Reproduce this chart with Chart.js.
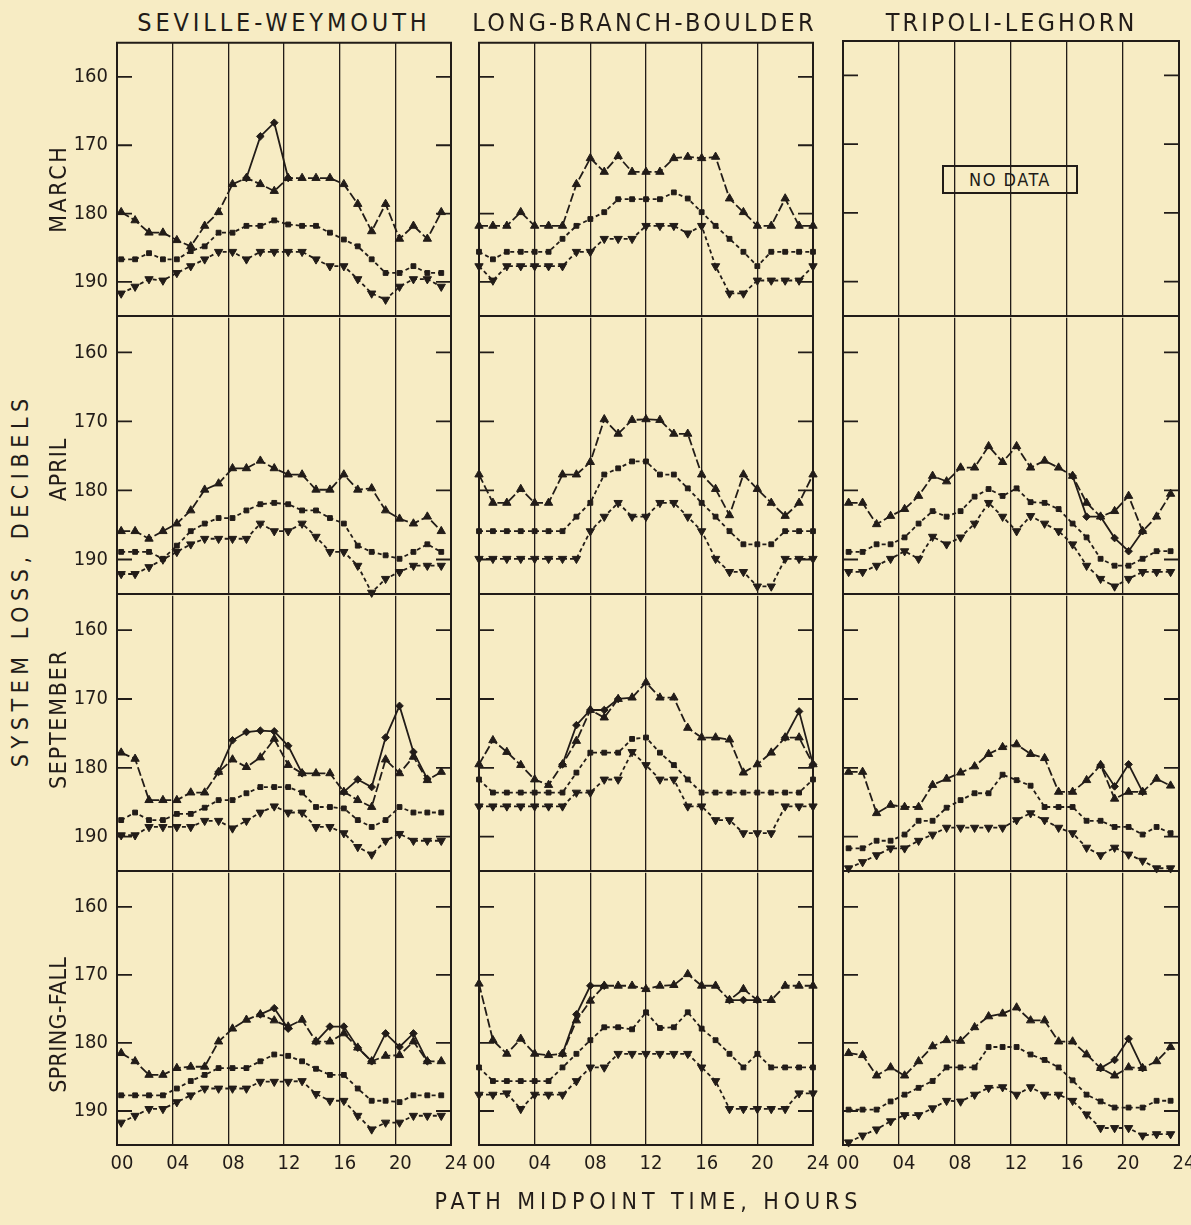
<!DOCTYPE html>
<html>
<head>
<meta charset="utf-8">
<script src="https://cdn.jsdelivr.net/npm/chart.js@4.4.1/dist/chart.umd.min.js"></script>
<style>
  html, body { margin: 0; background: #f7ecc4; }
  #page { position: relative; width: 1191px; height: 1225px; overflow: hidden; color: #221c18;
          font-family: "DejaVu Sans Condensed", "DejaVu Sans", sans-serif; }
  #page canvas { position: absolute; }
  .lbl { position: absolute; white-space: nowrap; line-height: 1; }
  #nodata { position: absolute; left: 942px; top: 165px; width: 132px; height: 25px; border: 2px solid #221c18;
            font-size: 18px; line-height: 25px; text-align: center; letter-spacing: 1.5px; }
</style>
</head>
<body>
<div id="page"><div id="nodata">NO DATA</div></div>
<script>
// ---- data ---------------------------------------------------------------
const paths  = ["SEVILLE-WEYMOUTH", "LONG-BRANCH-BOULDER", "TRIPOLI-LEGHORN"];
const months = ["MARCH", "APRIL", "SEPTEMBER", "SPRING-FALL"];
const yTicks = [160, 170, 180, 190];
const xTicks = [0, 4, 8, 12, 16, 20, 24];

// path midpoint hours of the plotted points (each path is shifted a little)
const hoursSW = [0.3, 1.3, 2.3, 3.3, 4.3, 5.3, 6.3, 7.3, 8.3, 9.3, 10.3, 11.3, 12.3, 13.3, 14.3, 15.3, 16.3, 17.3, 18.3, 19.3, 20.3, 21.3, 22.3, 23.3];
const hoursLB = [0, 1, 2, 3, 4, 5, 6, 7, 8, 9, 10, 11, 12, 13, 14, 15, 16, 17, 18, 19, 20, 21, 22, 23, 24];
const hoursTL = [0.4, 1.4, 2.4, 3.4, 4.4, 5.4, 6.4, 7.4, 8.4, 9.4, 10.4, 11.4, 12.4, 13.4, 14.4, 15.4, 16.4, 17.4, 18.4, 19.4, 20.4, 21.4, 22.4, 23.4];

// Seville - Weymouth
const swMarHigh = [179.8, 181.0, 182.8, 182.8, 183.9, 184.8, 181.8, 179.8, 175.7, 174.8, 175.7, 176.7, 174.8, 174.8, 174.8, 174.8, 175.7, 178.6, 182.6, 178.6, 183.7, 181.8, 183.7, 179.8];
const swMarMid  = [186.7, 186.7, 185.8, 186.7, 186.7, 185.5, 184.8, 182.8, 182.8, 181.8, 181.8, 181.0, 181.6, 181.8, 181.8, 182.8, 183.8, 184.8, 186.7, 188.7, 188.7, 187.7, 188.7, 188.7];
const swMarLow  = [191.7, 190.7, 189.6, 189.8, 188.7, 187.7, 186.7, 185.6, 185.6, 186.7, 185.6, 185.6, 185.6, 185.6, 186.7, 187.7, 187.7, 189.6, 191.7, 192.6, 190.7, 189.6, 189.6, 190.7];
const swMarAlt  = [null, null, null, null, null, null, null, null, null, 174.8, 168.7, 166.7, 174.8, null, null, null, null, null, null, null, null, null, null, null];

const swAprHigh = [185.9, 185.9, 187.0, 185.9, 184.8, 182.9, 179.9, 179.0, 176.8, 176.8, 175.7, 176.8, 177.7, 177.7, 179.9, 179.9, 177.7, 179.9, 179.7, 182.9, 184.1, 184.8, 183.8, 185.9];
const swAprMid  = [188.9, 188.9, 188.9, 189.9, 188.0, 185.9, 184.8, 184.0, 184.0, 182.9, 182.0, 181.8, 182.0, 182.9, 182.9, 184.0, 184.8, 188.0, 188.9, 189.4, 189.9, 188.9, 187.8, 188.9];
const swAprLow  = [192.1, 192.1, 191.1, 190.0, 188.9, 187.8, 187.0, 187.0, 187.0, 187.0, 184.8, 185.9, 185.9, 184.8, 186.7, 188.9, 188.9, 190.9, 194.8, 192.8, 191.8, 190.9, 190.9, 190.9];

const swSepHigh = [177.8, 178.7, 184.7, 184.7, 184.7, 183.6, 183.6, 180.6, 178.8, 179.9, 178.5, 175.8, 179.6, 180.8, 180.8, 180.8, 183.5, 184.7, 185.7, 178.8, 180.8, 178.4, 181.8, 180.6];
const swSepMid  = [187.6, 186.5, 187.6, 187.6, 186.7, 186.7, 185.8, 184.7, 184.7, 183.7, 182.8, 182.8, 182.8, 183.6, 185.7, 185.7, 185.9, 187.6, 188.6, 187.6, 185.7, 186.5, 186.5, 186.5];
const swSepLow  = [189.8, 189.8, 188.6, 188.6, 188.6, 188.6, 187.7, 187.7, 188.8, 187.7, 186.5, 185.6, 186.5, 186.5, 188.6, 188.6, 189.5, 191.5, 192.6, 190.6, 189.6, 190.6, 190.6, 190.6];
const swSepAlt  = [null, null, null, null, null, null, null, 180.6, 176.0, 174.8, 174.6, 174.7, 176.8, 180.8, null, null, 183.5, 181.7, 182.8, 175.6, 171.0, 177.7, 181.6, null];

const swSfHigh  = [181.5, 182.7, 184.7, 184.7, 183.7, 183.5, 183.5, 179.8, 177.9, 176.6, 175.8, 176.7, 177.6, 176.6, 179.8, 179.8, 178.6, 180.7, 182.7, 181.9, 181.8, 179.8, 182.7, 182.7];
const swSfMid   = [187.7, 187.7, 187.7, 187.7, 186.7, 185.6, 184.7, 183.7, 183.7, 183.7, 182.7, 181.7, 181.9, 182.7, 183.8, 184.7, 184.7, 186.7, 188.5, 188.5, 188.7, 187.7, 187.7, 187.7];
const swSfLow   = [191.7, 190.7, 189.7, 189.7, 188.7, 187.7, 186.7, 186.7, 186.7, 186.7, 185.7, 185.7, 185.7, 185.6, 187.5, 188.5, 188.5, 190.7, 192.7, 191.7, 191.7, 190.7, 190.7, 190.7];
const swSfAlt   = [null, null, null, null, null, null, null, null, null, null, 175.8, 174.9, 177.9, null, 179.8, 177.6, 177.6, 180.7, 182.7, 178.6, 180.6, 178.6, 182.7, null];

// Long Branch - Boulder
const lbMarHigh = [181.8, 181.8, 181.8, 179.8, 181.8, 181.8, 181.8, 175.7, 171.9, 173.9, 171.6, 173.9, 173.9, 173.9, 171.9, 171.7, 171.9, 171.7, 177.8, 179.8, 181.8, 181.8, 177.8, 181.8, 181.8];
const lbMarMid  = [185.6, 186.7, 185.6, 185.6, 185.6, 185.6, 183.7, 181.8, 180.8, 179.8, 177.9, 177.9, 177.9, 177.9, 176.9, 177.8, 179.8, 181.8, 183.7, 185.6, 187.7, 185.6, 185.6, 185.6, 185.6];
const lbMarLow  = [187.7, 189.8, 187.7, 187.7, 187.7, 187.7, 187.7, 185.6, 185.6, 183.7, 183.7, 183.7, 181.8, 181.8, 181.8, 182.9, 181.8, 187.7, 191.7, 191.7, 189.8, 189.8, 189.8, 189.8, 187.7];

const lbAprHigh = [177.7, 181.8, 181.8, 179.8, 181.8, 181.8, 177.7, 177.7, 175.9, 169.7, 171.8, 169.8, 169.7, 169.8, 171.8, 171.8, 177.7, 179.8, 183.6, 177.7, 179.8, 181.8, 183.7, 181.8, 177.7];
const lbAprMid  = [185.9, 185.9, 185.9, 185.9, 185.9, 185.9, 185.9, 183.8, 181.8, 177.7, 176.8, 175.8, 175.8, 177.7, 177.7, 179.7, 181.8, 183.8, 185.9, 187.8, 187.8, 187.8, 185.9, 185.9, 185.9];
const lbAprLow  = [189.9, 189.9, 189.9, 189.9, 189.9, 189.9, 189.9, 189.9, 185.9, 183.8, 181.8, 183.8, 183.8, 181.8, 181.8, 183.8, 185.9, 189.9, 191.8, 191.8, 193.9, 193.9, 189.9, 189.9, 189.9];

const lbSepHigh = [179.5, 176.0, 177.7, 179.6, 181.7, 182.5, 179.5, 176.1, 171.6, 172.7, 170.0, 169.8, 167.6, 169.8, 169.8, 174.2, 175.6, 175.6, 175.9, 180.7, 179.5, 177.8, 175.6, 175.6, 179.5];
const lbSepMid  = [181.7, 183.6, 183.6, 183.6, 183.6, 183.6, 183.6, 180.7, 177.8, 177.8, 177.8, 175.8, 175.6, 177.8, 179.6, 181.7, 183.6, 183.6, 183.6, 183.6, 183.6, 183.6, 183.6, 183.6, 181.7];
const lbSepLow  = [185.6, 185.6, 185.6, 185.6, 185.6, 185.6, 185.6, 183.6, 183.6, 181.7, 181.7, 177.7, 179.6, 181.7, 181.7, 185.6, 185.6, 187.6, 187.6, 189.5, 189.5, 189.5, 185.6, 185.6, 185.6];
const lbSepAlt  = [null, null, null, null, null, null, 179.5, 173.8, 171.6, 171.6, 170.0, null, null, null, null, null, null, null, null, null, null, null, 175.6, 171.8, 179.5];

const lbSfHigh  = [171.3, 179.6, 181.6, 179.4, 181.6, 181.8, 181.6, 176.7, 173.8, 171.6, 171.6, 171.6, 172.1, 171.6, 171.5, 169.9, 171.6, 171.6, 173.7, 172.1, 173.7, 173.7, 171.6, 171.6, 171.6];
const lbSfMid   = [183.6, 185.6, 185.6, 185.6, 185.6, 185.6, 183.6, 181.6, 179.6, 177.7, 177.7, 178.0, 175.5, 177.8, 177.7, 175.5, 177.9, 179.6, 181.6, 183.6, 181.6, 183.6, 183.6, 183.6, 183.6];
const lbSfLow   = [187.6, 187.6, 187.4, 189.7, 187.6, 187.6, 187.6, 185.6, 183.6, 183.6, 181.6, 181.6, 181.6, 181.6, 181.6, 181.6, 183.6, 185.6, 189.7, 189.7, 189.7, 189.7, 189.7, 187.4, 187.4];
const lbSfAlt   = [null, null, null, null, null, null, 181.6, 175.8, 171.6, 171.6, null, null, null, null, null, null, null, null, 173.7, 173.7, 173.7, null, null, null, null];

// Tripoli - Leghorn (no March data)
const tlAprHigh = [181.8, 181.8, 184.9, 183.7, 182.7, 180.8, 177.9, 178.7, 176.7, 176.7, 173.6, 175.9, 173.6, 176.7, 175.7, 176.7, 177.9, 181.8, 183.8, 183.0, 180.8, 185.9, 183.8, 180.5];
const tlAprMid  = [188.9, 188.9, 187.8, 187.8, 186.8, 184.8, 183.0, 183.8, 183.0, 180.9, 179.8, 180.8, 179.7, 181.7, 181.8, 182.7, 184.8, 186.8, 189.9, 190.9, 190.9, 189.9, 188.8, 188.8];
const tlAprLow  = [191.8, 191.8, 190.9, 189.9, 188.8, 189.9, 186.7, 187.8, 186.8, 184.8, 181.8, 183.8, 185.9, 183.7, 184.8, 185.9, 187.8, 190.9, 192.8, 193.9, 192.8, 191.8, 191.8, 191.8];
const tlAprAlt  = [null, null, null, null, null, null, null, null, null, null, null, null, null, null, null, null, 177.9, 183.8, 183.8, 186.9, 188.8, 185.9, null, null];

const tlSepHigh = [180.6, 180.6, 186.6, 185.4, 185.7, 185.7, 182.5, 181.6, 180.7, 179.8, 178.0, 177.0, 176.6, 178.0, 178.6, 183.5, 183.5, 181.8, 179.6, 184.5, 183.5, 183.5, 181.6, 182.6];
const tlSepMid  = [191.7, 191.7, 190.6, 190.6, 189.7, 187.7, 187.7, 185.8, 184.7, 183.7, 183.7, 181.0, 181.8, 182.6, 185.7, 185.7, 185.7, 187.7, 187.7, 188.6, 188.6, 189.7, 188.6, 189.5];
const tlSepLow  = [194.6, 193.7, 192.7, 191.7, 191.7, 190.6, 189.7, 188.7, 188.7, 188.7, 188.7, 188.7, 187.6, 186.6, 187.6, 188.7, 189.5, 191.6, 192.7, 191.6, 192.6, 193.5, 194.6, 194.6];
const tlSepAlt  = [null, null, null, null, null, null, null, null, null, null, null, null, null, null, null, null, null, null, 179.6, 182.7, 179.5, 183.5, null, null];

const tlSfHigh  = [181.5, 181.8, 184.8, 183.6, 184.8, 182.7, 180.5, 179.6, 179.7, 177.7, 176.1, 175.7, 174.8, 176.7, 176.7, 179.8, 179.8, 181.7, 183.7, 184.8, 183.6, 183.7, 182.7, 180.6];
const tlSfMid   = [189.8, 189.8, 189.8, 188.6, 187.6, 186.6, 185.6, 183.6, 183.6, 183.6, 180.6, 180.6, 180.6, 181.7, 182.5, 183.6, 185.5, 187.6, 188.6, 189.5, 189.5, 189.5, 188.5, 188.5];
const tlSfLow   = [194.6, 193.6, 192.7, 191.5, 190.6, 190.6, 189.6, 188.5, 188.6, 187.6, 186.6, 186.5, 187.6, 186.5, 187.6, 187.6, 188.5, 190.5, 192.5, 192.5, 192.5, 193.6, 193.4, 193.4];
const tlSfAlt   = [null, null, null, null, null, null, null, null, null, null, null, null, null, null, null, null, null, null, 183.7, 182.5, 179.4, 183.7, null, null];

// ---- layout ---------------------------------------------------------------
const ink = "#221c18";
const tickFont = { family: '"Liberation Sans Narrow", "DejaVu Sans Condensed", sans-serif', size: 20 };
const colLeft = [117, 479, 843], colRight = [451, 813, 1179];
const rowTop = [41, 316, 594, 871], rowBottom = [316, 594, 871, 1145];
const padL = 60, padT = 4, padR = 24, padB = 40;

// panel grid: rows = months, columns = paths
const grid = [
  [[hoursSW, swMarHigh, swMarMid, swMarLow, swMarAlt], [hoursLB, lbMarHigh, lbMarMid, lbMarLow, null], [hoursTL, null, null, null, null]],
  [[hoursSW, swAprHigh, swAprMid, swAprLow, null], [hoursLB, lbAprHigh, lbAprMid, lbAprLow, null], [hoursTL, tlAprHigh, tlAprMid, tlAprLow, tlAprAlt]],
  [[hoursSW, swSepHigh, swSepMid, swSepLow, swSepAlt], [hoursLB, lbSepHigh, lbSepMid, lbSepLow, lbSepAlt], [hoursTL, tlSepHigh, tlSepMid, tlSepLow, tlSepAlt]],
  [[hoursSW, swSfHigh, swSfMid, swSfLow, swSfAlt], [hoursLB, lbSfHigh, lbSfMid, lbSfLow, lbSfAlt], [hoursTL, tlSfHigh, tlSfMid, tlSfLow, tlSfAlt]],
];

const styles = {
  high: { pointStyle: "triangle", pointRadius: 4.8, borderDash: [9, 3] },
  mid:  { pointStyle: "rect", pointRadius: 3.4, borderDash: [4, 3] },
  low:  { pointStyle: "triangle", pointRotation: 180, pointRadius: 4.8, borderDash: [4, 3] },
  alt:  { pointStyle: "rectRot", pointRadius: 3.8, borderDash: [] },
};

function series(hours, vals, kind) {
  return Object.assign({
    data: hours.map((h, i) => ({ x: h, y: vals[i] })),
    borderColor: ink, backgroundColor: ink, borderWidth: 1.8,
    pointBackgroundColor: ink, pointBorderColor: ink, pointBorderWidth: 1,
    tension: 0, fill: false, spanGaps: false, clip: 8,
  }, styles[kind]);
}

// outer frame plus the short inward ticks on both sides;
// stacked panels share an edge, so only the first row draws its top line
const frame = {
  id: "frame",
  afterDraw(chart, args, opts) {
    const { ctx, chartArea: a } = chart;
    const y = chart.scales.y;
    ctx.save();
    ctx.strokeStyle = ink;
    ctx.lineWidth = 1.8;
    y.ticks.forEach(t => {
      const py = y.getPixelForValue(t.value);
      ctx.beginPath();
      ctx.moveTo(a.left, py); ctx.lineTo(a.left + 15, py);
      ctx.moveTo(a.right - 15, py); ctx.lineTo(a.right, py);
      ctx.stroke();
    });
    ctx.lineWidth = 2;
    ctx.lineCap = "square";
    ctx.beginPath();
    if (opts.top) { ctx.moveTo(a.left, a.top); ctx.lineTo(a.right, a.top); }
    ctx.moveTo(a.left, a.top); ctx.lineTo(a.left, a.bottom); ctx.lineTo(a.right, a.bottom); ctx.lineTo(a.right, a.top);
    ctx.stroke();
    ctx.restore();
  }
};

// fixed-size axes so every panel's plot area lands exactly where it should
function fixX(s) { s.height = padB; s.paddingLeft = 0; s.paddingRight = 0; }
function fixY(s) { s.width = padL; s.paddingTop = 0; s.paddingBottom = 0; }

const page = document.getElementById("page");

grid.forEach((row, r) => row.forEach((p, c) => {
  const [hours, high, mid, low, alt] = p;
  const W = colRight[c] - colLeft[c], H = rowBottom[r] - rowTop[r];
  const cv = document.createElement("canvas");
  cv.width = W + padL + padR; cv.height = H + padT + padB;
  cv.style.left = (colLeft[c] - padL) + "px";
  cv.style.top = (rowTop[r] - padT) + "px";
  page.appendChild(cv);

  const datasets = [];
  if (high) datasets.push(series(hours, high, "high"));
  if (mid) datasets.push(series(hours, mid, "mid"));
  if (low) datasets.push(series(hours, low, "low"));
  if (alt) datasets.push(series(hours, alt, "alt"));

  new Chart(cv, {
    type: "line",
    data: { datasets },
    options: {
      responsive: false, animation: false, events: [],
      layout: { padding: { top: padT, right: padR, left: 0, bottom: 0 } },
      plugins: { legend: { display: false }, tooltip: { enabled: false }, frame: { top: r === 0 } },
      scales: {
        x: {
          type: "linear", min: 0, max: 24,
          afterBuildTicks: s => { s.ticks = xTicks.map(v => ({ value: v })); },
          afterFit: fixX,
          grid: { color: ink, lineWidth: 1.3, drawTicks: false },
          border: { display: false },
          ticks: { display: r === 3, padding: 7, labelOffset: 5, color: ink, font: tickFont, maxRotation: 0,
                   callback: v => String(v).padStart(2, "0") }
        },
        y: {
          min: 155, max: 195, reverse: true,
          afterBuildTicks: s => { s.ticks = yTicks.map(v => ({ value: v })); },
          afterFit: fixY,
          grid: { display: false, drawTicks: false },
          border: { display: false },
          ticks: { display: c === 0, padding: 9, color: ink, font: tickFont }
        }
      }
    },
    plugins: [frame]
  });
}));

// ---- text labels, spaced out to the lettering widths of the original -------
function place(text, cx, cy, size, target, vertical) {
  const el = document.createElement("div");
  el.className = "lbl";
  el.textContent = text;
  el.style.fontSize = size + "px";
  page.appendChild(el);
  const sp = (target - el.offsetWidth) / text.length;
  el.style.letterSpacing = sp + "px";
  el.style.paddingLeft = Math.max(sp, 0) + "px";
  el.style.left = cx + "px";
  el.style.top = cy + "px";
  el.style.transform = "translate(-50%, -50%)" + (vertical ? " rotate(-90deg)" : "");
}

const titleX = [282, 643, 1010];
paths.forEach((t, i) => place(t, titleX[i], 22, 25, [293, 345, 252][i], false));
const monthY = [190, 470, 720, 1025];
months.forEach((m, i) => place(m, 58, monthY[i], 23, [88, 64, 140, 136][i], true));
place("SYSTEM LOSS, DECIBELS", 20, 583, 23, 374, true);
place("PATH MIDPOINT TIME, HOURS", 646, 1201, 23, 428, false);
</script>
</body>
</html>
